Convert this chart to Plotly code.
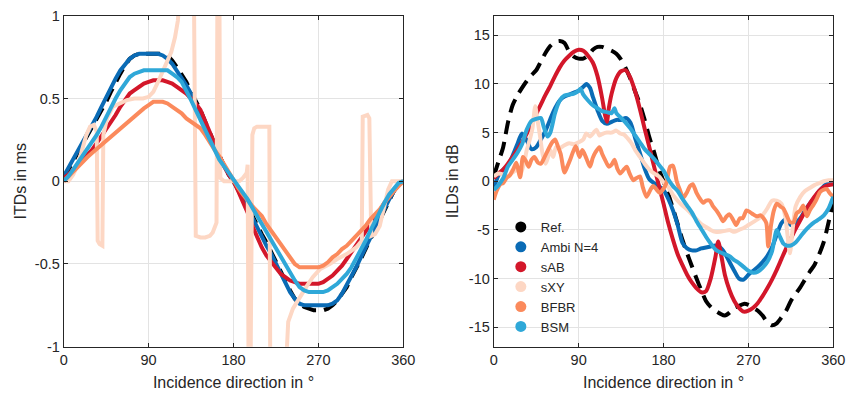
import plotly.graph_objects as go

# ---------------- data ----------------
series_names = ["Ref.", "Ambi N=4", "sAB", "sXY", "BFBR", "BSM"]
series_colors = ["#000000", "#0a6bb5", "#d3172a", "#fdd7c4", "#fb8a5c", "#2fa8d8"]

x_ticks = [0, 90, 180, 270, 360]
x_tick_labels = ["0", "90", "180", "270", "360"]
itd_ticks = [-1, -0.5, 0, 0.5, 1]
itd_tick_labels = ["-1", "-0.5", "0", "0.5", "1"]
ild_ticks = [-15, -10, -5, 0, 5, 10, 15]
ild_tick_labels = ["-15", "-10", "-5", "0", "5", "10", "15"]

# common 5-degree grid for the smooth ITD curves and the ILD reference
deg5 = [0, 5, 10, 15, 20, 25, 30, 35, 40, 45, 50, 55, 60, 65, 70, 75, 80, 85, 90, 95,
        100, 105, 110, 115, 120, 125, 130, 135, 140, 145, 150, 155, 160, 165, 170, 175,
        180, 185, 190, 195, 200, 205, 210, 215, 220, 225, 230, 235, 240, 245, 250, 255,
        260, 265, 270, 275, 280, 285, 290, 295, 300, 305, 310, 315, 320, 325, 330, 335,
        340, 345, 350, 355, 360]

# ITDs in ms
itd_ref = [0.02, 0.07, 0.12, 0.17, 0.22, 0.27, 0.32, 0.37, 0.42, 0.48, 0.54, 0.60, 0.65, 0.70,
           0.74, 0.76, 0.77, 0.77, 0.77, 0.77, 0.77, 0.77, 0.76, 0.73, 0.69, 0.65, 0.60, 0.54,
           0.49, 0.43, 0.36, 0.29, 0.22, 0.15, 0.09, 0.04, 0.0, -0.04, -0.09, -0.15, -0.21,
           -0.27, -0.32, -0.37, -0.43, -0.49, -0.55, -0.60, -0.66, -0.71, -0.74, -0.76, -0.77,
           -0.78, -0.78, -0.78, -0.77, -0.75, -0.72, -0.68, -0.64, -0.58, -0.53, -0.47, -0.41,
           -0.35, -0.29, -0.23, -0.17, -0.11, -0.06, -0.02, 0.0]
itd_ambi = [0.03, 0.08, 0.13, 0.19, 0.24, 0.29, 0.34, 0.39, 0.45, 0.51, 0.57, 0.62, 0.67, 0.71,
            0.74, 0.76, 0.77, 0.77, 0.77, 0.77, 0.77, 0.76, 0.74, 0.71, 0.67, 0.63, 0.58, 0.53,
            0.47, 0.41, 0.35, 0.28, 0.21, 0.15, 0.09, 0.04, 0.0, -0.05, -0.10, -0.16, -0.22,
            -0.28, -0.34, -0.39, -0.44, -0.50, -0.56, -0.62, -0.67, -0.71, -0.74, -0.75, -0.75,
            -0.75, -0.75, -0.75, -0.75, -0.74, -0.72, -0.68, -0.63, -0.58, -0.52, -0.46, -0.40,
            -0.34, -0.28, -0.22, -0.16, -0.11, -0.06, -0.02, 0.0]
itd_sab = [0.02, 0.04, 0.07, 0.10, 0.13, 0.16, 0.19, 0.23, 0.27, 0.31, 0.36, 0.40, 0.45, 0.49,
           0.53, 0.55, 0.57, 0.59, 0.60, 0.61, 0.61, 0.61, 0.60, 0.59, 0.57, 0.55, 0.53, 0.50,
           0.47, 0.43, 0.36, 0.29, 0.22, 0.15, 0.09, 0.04, 0.0, -0.06, -0.12, -0.19, -0.27,
           -0.34, -0.40, -0.45, -0.49, -0.53, -0.56, -0.58, -0.60, -0.61, -0.62, -0.62, -0.62,
           -0.62, -0.62, -0.61, -0.59, -0.57, -0.54, -0.51, -0.47, -0.43, -0.39, -0.35, -0.30,
           -0.26, -0.22, -0.18, -0.13, -0.09, -0.05, -0.02, 0.0]
itd_bfbr = [0.0, 0.03, 0.06, 0.09, 0.12, 0.145, 0.17, 0.195, 0.22, 0.245, 0.27, 0.295, 0.32,
            0.345, 0.37, 0.395, 0.42, 0.44, 0.46, 0.48, 0.48, 0.48, 0.47, 0.45, 0.43, 0.41,
            0.38, 0.36, 0.34, 0.32, 0.28, 0.23, 0.19, 0.15, 0.10, 0.05, 0.0, -0.04, -0.08,
            -0.12, -0.15, -0.18, -0.21, -0.26, -0.30, -0.35, -0.39, -0.43, -0.47, -0.50, -0.52,
            -0.52, -0.52, -0.52, -0.52, -0.51, -0.49, -0.46, -0.44, -0.41, -0.39, -0.36, -0.33,
            -0.30, -0.27, -0.23, -0.20, -0.17, -0.13, -0.09, -0.06, -0.03, 0.0]
itd_bsm = [0.0, 0.03, 0.07, 0.11, 0.15, 0.19, 0.23, 0.28, 0.33, 0.39, 0.44, 0.50, 0.55, 0.59,
           0.63, 0.65, 0.66, 0.67, 0.67, 0.67, 0.67, 0.67, 0.67, 0.65, 0.63, 0.60, 0.55, 0.49,
           0.43, 0.37, 0.30, 0.24, 0.18, 0.13, 0.09, 0.05, 0.02, -0.02, -0.06, -0.11, -0.16,
           -0.21, -0.26, -0.31, -0.36, -0.41, -0.46, -0.51, -0.56, -0.60, -0.64, -0.66, -0.67,
           -0.67, -0.67, -0.67, -0.66, -0.64, -0.62, -0.59, -0.56, -0.52, -0.47, -0.42, -0.36,
           -0.30, -0.24, -0.18, -0.13, -0.08, -0.04, -0.01, 0.0]
# sXY ITD jumps around (values beyond +-1 leave the axes)
itd_sxy_deg = [0, 5, 10, 15, 20, 24, 28, 32, 35, 36, 38, 41, 42, 46, 52, 60, 67, 75, 84, 90,
               95, 100, 105, 110, 114, 118, 121, 124, 138, 140, 145, 150, 155, 158, 162, 163,
               165, 166, 170, 180, 186, 190, 194, 195, 196, 198, 199, 200, 202, 205, 218, 219,
               235, 238, 243, 250, 257, 264, 272, 282, 290, 300, 310, 316, 317, 322, 324, 326,
               330, 335, 340, 344, 348, 360]
itd_sxy = [0.0, 0.0, 0.04, 0.10, 0.20, 0.28, 0.33, 0.34, 0.30, -0.36, -0.38, -0.39, 0.28, 0.38,
           0.45, 0.47, 0.49, 0.50, 0.50, 0.51, 0.54, 0.60, 0.66, 0.72, 0.78, 0.87, 0.97, 1.2,
           1.2, -0.33, -0.34, -0.34, -0.33, -0.31, -0.25, 1.2, 1.2, 0.02, 0.0, 0.0, 0.0, 0.02,
           0.05, 0.10, -1.2, -1.2, 0.05, 0.28, 0.32, 0.33, 0.33, -1.2, -1.2, -0.85, -0.77,
           -0.70, -0.64, -0.58, -0.53, -0.50, -0.47, -0.44, -0.40, -0.36, 0.39, 0.40, 0.38,
           -0.33, -0.32, -0.27, -0.15, -0.05, 0.0, 0.0]

# ILDs in dB
ild_ref = [0.5, 2.0, 3.5, 6.0, 7.8, 8.8, 9.6, 10.3, 10.9, 11.4, 12.3, 13.2, 13.9, 14.3, 14.4,
           14.2, 13.3, 12.8, 12.6, 12.6, 12.9, 13.5, 13.8, 13.8, 13.6, 13.4, 13.1, 12.5, 11.6,
           10.5, 9.2, 7.9, 6.3, 4.5, 3.0, 1.3, 0.0, -1.3, -2.8, -4.4, -6.0, -7.4, -8.7, -10.0,
           -11.2, -12.3, -12.9, -13.3, -13.6, -13.8, -13.5, -13.0, -12.8, -12.6, -12.7, -13.0,
           -13.3, -13.8, -14.5, -14.8, -14.6, -14.0, -13.3, -12.3, -11.6, -10.9, -10.1, -9.3,
           -8.6, -7.5, -6.2, -4.2, -2.0]
ild_ambi_deg = [0, 5, 10, 15, 20, 25, 30, 35, 40, 45, 50, 55, 60, 65, 70, 75, 80, 85, 90, 95,
                98, 102, 105, 110, 115, 120, 125, 130, 135, 140, 145, 150, 155, 160, 165, 170,
                175, 180, 185, 190, 195, 200, 205, 210, 215, 220, 225, 230, 235, 240, 245, 250,
                255, 260, 265, 270, 275, 280, 285, 290, 295, 300, 305, 310, 315, 320, 325, 330,
                335, 340, 345, 350, 355, 360]
ild_ambi = [-0.7, 0.6, 1.2, 1.6, 2.6, 3.8, 4.9, 4.2, 3.3, 3.5, 4.3, 5.2, 6.4, 7.5, 8.3, 8.7,
            8.9, 9.1, 9.3, 9.7, 10.0, 9.6, 8.7, 7.3, 6.2, 5.9, 6.1, 6.3, 6.3, 6.5, 6.0, 4.4,
            2.9, 1.3, 0.2, -0.2, -0.5, -0.9, -1.8, -3.0, -4.5, -6.3, -6.9, -7.1, -7.1, -6.9,
            -6.8, -6.7, -6.6, -6.8, -7.4, -8.3, -9.2, -10.0, -10.1, -9.6, -9.2, -8.8, -8.3,
            -7.7, -6.8, -5.5, -4.3, -3.9, -4.5, -4.3, -3.8, -3.0, -2.3, -1.7, -1.0, -0.5, 0.0,
            -0.1]
ild_sab_deg = [0, 5, 10, 15, 20, 25, 30, 35, 40, 45, 50, 55, 60, 65, 70, 75, 80, 85, 90, 95,
               100, 105, 110, 115, 118, 120, 122, 125, 130, 135, 140, 145, 150, 155, 160, 165,
               170, 175, 180, 185, 190, 195, 200, 205, 210, 215, 220, 225, 230, 235, 238, 241,
               245, 250, 255, 260, 265, 270, 275, 280, 285, 290, 295, 300, 305, 310, 315, 320,
               325, 330, 335, 340, 345, 350, 355, 360]
ild_sab = [0.3, 0.8, 1.2, 1.8, 2.5, 3.2, 4.0, 4.9, 5.9, 6.9, 7.9, 8.9, 9.8, 10.8, 11.7, 12.4,
           12.9, 13.3, 13.5, 13.4, 12.9, 12.2, 10.8, 8.5, 6.8, 6.1, 7.5, 9.0, 10.6, 11.3, 11.4,
           10.6, 9.2, 7.4, 5.4, 3.5, 1.5, -0.4, -2.3, -4.3, -6.0, -7.5, -8.6, -9.6, -10.4,
           -11.0, -11.4, -11.3, -10.0, -7.8, -6.2, -7.5, -9.6, -11.2, -12.3, -13.0, -13.4,
           -13.3, -13.0, -12.5, -11.8, -11.0, -10.1, -9.1, -8.0, -6.9, -5.9, -4.9, -4.0, -3.1,
           -2.3, -1.6, -1.0, -0.6, -0.4, -0.3]
ild_sxy_deg = [0, 5, 10, 15, 20, 25, 28, 32, 35, 38, 41, 44, 46, 49, 52, 55, 58, 60, 63, 66,
               70, 75, 80, 85, 90, 95, 98, 102, 106, 109, 112, 116, 120, 125, 130, 134, 138,
               142, 146, 150, 155, 160, 165, 170, 175, 180, 185, 190, 195, 200, 205, 210, 215,
               220, 225, 230, 235, 240, 245, 250, 255, 260, 265, 270, 275, 280, 285, 290, 295,
               300, 305, 309, 314, 317, 320, 325, 330, 335, 340, 345, 350, 355, 360]
ild_sxy = [0.5, 0.8, 0.7, 0.5, 0.9, 1.2, 0.6, 1.8, 3.2, 4.2, 5.4, 7.7, 6.5, 4.7, 2.7, 1.8, 2.6,
           3.2, 2.5, 3.5, 3.4, 3.7, 3.9, 3.8, 4.0, 4.3, 4.9, 4.6, 5.0, 5.3, 4.7, 4.9, 5.0, 5.0,
           5.2, 4.9, 4.8, 4.4, 3.9, 3.2, 2.5, 1.8, 1.2, 0.8, 0.5, -0.1, -0.6, -1.4, -2.0, -2.5,
           -2.9, -3.4, -3.9, -4.4, -4.7, -5.0, -5.2, -5.2, -5.1, -5.0, -5.2, -5.0, -4.8, -4.5,
           -4.2, -3.9, -3.5, -2.8, -2.0, -2.0, -2.3, -3.6, -7.4, -4.8, -2.6, -1.6, -1.0, -0.7,
           -0.4, -0.2, 0.0, 0.1, 0.1]
ild_bfbr_deg = [0, 3, 7, 10, 14, 17, 21, 24, 28, 31, 34, 37, 40, 43, 47, 50, 54, 58, 62, 65,
                68, 71, 75, 78, 81, 84, 87, 91, 94, 98, 102, 105, 108, 112, 115, 118, 122, 125,
                128, 131, 134, 137, 141, 144, 148, 151, 155, 158, 162, 166, 169, 173, 176, 179,
                183, 187, 190, 194, 197, 201, 205, 208, 211, 215, 218, 222, 225, 229, 232, 236,
                240, 243, 247, 250, 254, 257, 261, 264, 268, 272, 275, 279, 283, 286, 289, 291,
                294, 297, 300, 304, 307, 311, 314, 318, 321, 325, 328, 332, 335, 339, 342, 346,
                349, 353, 356, 360]
ild_bfbr = [-1.9, -1.0, -0.3, -0.2, 0.4, 0.6, 1.3, 1.9, 0.4, 2.5, 2.1, 1.5, 2.2, 2.5, 1.9, 1.8,
            2.5, 3.3, 4.0, 4.3, 3.6, 2.8, 0.9, 1.5, 2.2, 3.0, 3.6, 2.5, 3.2, 2.4, 1.5, 2.4, 3.0,
            3.5, 2.8, 2.2, 1.5, 1.7, 2.2, 1.3, 0.8, 1.1, 1.5, 0.8, 0.1, 0.3, 0.5, -0.6, -1.6,
            -0.9, -0.5, -0.9, -1.2, -0.9, -0.2, 1.5, 1.6, 0.0, -0.8, -1.7, -1.1, -0.5, -0.3,
            -1.2, -1.7, -2.2, -2.0, -2.0, -2.5, -3.0, -3.6, -4.1, -3.6, -3.4, -4.0, -4.5, -3.8,
            -3.8, -3.0, -3.2, -3.4, -3.6, -3.5, -3.8, -4.3, -6.7, -4.5, -3.0, -2.3, -2.6, -2.8,
            -3.6, -4.2, -4.2, -3.3, -3.0, -2.5, -3.6, -3.0, -2.4, -1.9, -1.1, -0.9, -0.8, -1.2,
            -1.6]
ild_bsm_deg = [0, 5, 10, 15, 20, 25, 30, 35, 40, 45, 50, 53, 57, 60, 65, 70, 75, 80, 85, 90,
               92, 95, 100, 105, 110, 115, 120, 125, 128, 130, 135, 140, 145, 150, 155, 160,
               165, 170, 175, 180, 185, 190, 195, 200, 205, 210, 215, 220, 225, 230, 235, 240,
               245, 250, 255, 260, 265, 270, 275, 280, 285, 290, 295, 300, 303, 307, 310, 315,
               320, 325, 330, 335, 340, 345, 350, 355, 360]
ild_bsm = [-0.9, -0.4, 0.3, 1.5, 2.2, 2.9, 3.8, 5.3, 6.2, 6.4, 6.5, 5.6, 4.6, 5.0, 7.0, 8.3,
           8.8, 8.9, 9.0, 9.3, 9.5, 8.9, 8.3, 7.8, 7.5, 7.2, 7.1, 7.0, 7.5, 7.0, 6.5, 6.0, 5.4,
           4.7, 4.0, 3.3, 2.8, 2.3, 1.7, 1.1, 0.2, -0.5, -1.0, -1.8, -2.5, -3.2, -4.1, -4.9,
           -5.7, -6.4, -7.0, -7.3, -7.5, -7.7, -8.1, -8.4, -8.8, -9.2, -9.4, -9.3, -8.9, -8.3,
           -7.2, -5.0, -5.6, -6.4, -6.6, -6.6, -6.3, -5.7, -5.1, -4.6, -4.2, -3.9, -3.5, -2.8,
           -1.6]

itd_series = [(deg5, itd_ref), (deg5, itd_ambi), (deg5, itd_sab), (itd_sxy_deg, itd_sxy),
              (deg5, itd_bfbr), (deg5, itd_bsm)]
ild_series = [(deg5, ild_ref), (ild_ambi_deg, ild_ambi), (ild_sab_deg, ild_sab),
              (ild_sxy_deg, ild_sxy), (ild_bfbr_deg, ild_bfbr), (ild_bsm_deg, ild_bsm)]

# ---------------- figure ----------------
FONT = "Liberation Sans, Arial, Helvetica, sans-serif"
AX = "#262626"
LW = 4

fig = go.Figure()
for i, name in enumerate(series_names):
    line = dict(color=series_colors[i], width=LW)
    if i == 0:
        line["dash"] = "14px,8px"
    xs, ys = itd_series[i]
    fig.add_trace(go.Scatter(x=xs, y=ys, mode="lines", line=line, showlegend=False,
                             xaxis="x", yaxis="y", hoverinfo="skip"))
    xs, ys = ild_series[i]
    line2 = dict(line, shape="spline", smoothing=0.7)
    fig.add_trace(go.Scatter(x=xs, y=ys, mode="lines", line=line2, showlegend=False,
                             xaxis="x2", yaxis="y2", hoverinfo="skip"))
# legend entries shown as filled circles
for i, name in enumerate(series_names):
    fig.add_trace(go.Scatter(x=[None], y=[None], mode="markers", name=name,
                             marker=dict(color=series_colors[i], size=11),
                             xaxis="x2", yaxis="y2"))

common = dict(showline=True, linecolor=AX, linewidth=1, mirror="allticks", ticks="inside",
              ticklen=4, tickcolor=AX, showgrid=True, gridcolor="#e3e3e3", gridwidth=1,
              zeroline=False, automargin=False,
              tickfont=dict(family=FONT, size=14.5, color=AX))
xtitle = dict(text="Incidence direction in °", font=dict(family=FONT, size=16, color=AX),
              standoff=9)

fig.update_layout(
    width=846, height=394,
    margin=dict(l=0, r=0, t=0, b=0, autoexpand=False),
    paper_bgcolor="white", plot_bgcolor="white",
    font=dict(family=FONT, color=AX),
    xaxis=dict(domain=[0.0753, 0.4767], range=[0, 360], tickvals=x_ticks,
               ticktext=x_tick_labels, anchor="y", title=xtitle, **common),
    yaxis=dict(domain=[0.12, 0.96], range=[-1, 1], tickvals=itd_ticks,
               ticktext=itd_tick_labels, anchor="x",
               title=dict(text="ITDs in ms", font=dict(family=FONT, size=16, color=AX),
                          standoff=4), **common),
    xaxis2=dict(domain=[0.5836, 0.985], range=[0, 360], tickvals=x_ticks,
                ticktext=x_tick_labels, anchor="y2", title=xtitle, **common),
    yaxis2=dict(domain=[0.12, 0.96], range=[-17, 17], tickvals=ild_ticks,
                ticktext=ild_tick_labels, anchor="x2",
                title=dict(text="ILDs in dB", font=dict(family=FONT, size=16, color=AX),
                           standoff=6), **common),
    legend=dict(x=0.592, y=0.462, xanchor="left", yanchor="top",
                bgcolor="rgba(0,0,0,0)", borderwidth=0,
                font=dict(family=FONT, size=13, color=AX),
                tracegroupgap=0, itemwidth=30),
)

fig.write_html("out.html", post_script="document.body.style.margin='0px';",
               config={"displayModeBar": False})
